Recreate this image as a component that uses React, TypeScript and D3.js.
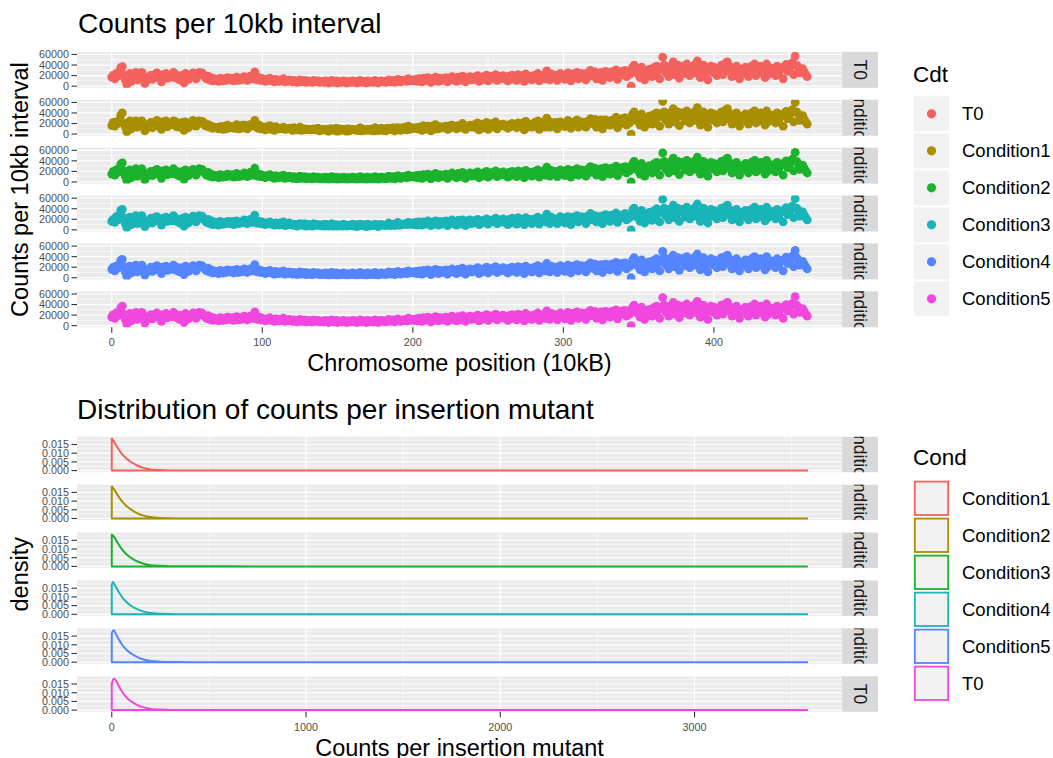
import React from 'react';
import * as d3 from 'd3';

// ---------- categories / colours ----------
const CDT_LEVELS = ['T0', 'Condition1', 'Condition2', 'Condition3', 'Condition4', 'Condition5'];
const COND_LEVELS = ['Condition1', 'Condition2', 'Condition3', 'Condition4', 'Condition5', 'T0'];
const HUE_COLORS = ['#F4625D', '#A88F00', '#1BB22C', '#19B4B8', '#5485FF', '#F047DF'];

// ---------- counts per 10kb interval (thousands), index = chromosome position ----------
const T0_COUNTS_K = [
17,21,14,24,19,27,35,37,22,12,3,18,24,9,15,20,26,12,17,22,
26,19,5,11,14,17,21,13,18,23,25,16,20,8,22,18,24,15,19,21,
17,26,23,15,20,12,18,21,6,24,19,13,17,22,25,18,14,20,26,23,
25,21,17,14,19,12,16,10,14,11,13,9,15,12,10,14,11,16,13,12,
15,10,13,17,11,14,12,16,18,13,11,15,19,14,17,27,13,12,16,11,
14,12,9,13,11,15,10,12,8,13,11,9,12,10,14,8,11,9,12,10,
8,11,9,7,10,12,8,9,11,7,10,8,9,7,11,8,9,10,7,8,
9,7,10,8,6,9,11,7,8,10,6,9,8,7,10,8,6,9,7,8,
10,7,9,6,8,11,7,8,9,6,10,7,8,9,7,11,8,6,9,10,
8,9,7,10,12,8,9,11,7,10,13,9,8,11,10,12,9,14,10,11,
12,10,13,9,14,11,8,15,10,13,16,11,7,14,10,17,13,9,15,11,
14,12,16,8,11,15,18,12,14,9,17,11,15,19,13,8,16,14,18,12,
15,17,13,20,9,16,12,18,15,21,10,17,14,19,16,22,11,13,18,16,
20,14,17,10,19,13,21,16,18,11,22,17,15,20,9,23,14,18,19,12,
17,21,16,24,10,19,18,22,14,29,20,12,23,18,17,21,11,15,24,18,
20,13,22,25,18,10,23,17,21,26,14,20,24,19,22,12,25,21,30,19,
22,27,14,24,20,26,11,23,28,19,25,16,27,20,24,31,13,26,21,28,
24,30,18,27,22,0,36,40,33,24,30,16,36,28,12,26,20,32,27,18,
35,22,38,30,14,36,55,40,26,34,18,38,30,46,22,28,40,15,33,38,
30,24,42,36,20,34,28,40,25,48,30,16,36,40,24,28,12,34,38,26,
36,30,20,34,26,40,22,30,44,46,28,36,18,30,24,38,28,14,32,26,
30,36,22,18,34,38,28,42,20,32,26,38,24,30,16,42,22,30,34,26,
33,20,38,24,31,35,14,36,41,28,30,38,44,22,57,40,36,25,31,33,
27,22,18];

const C1_COUNTS_K = [
16,22,15,23,20,26,36,40,21,13,4,17,25,10,14,21,25,13,16,23,
25,20,6,12,13,18,22,12,19,22,26,15,21,9,23,17,25,14,20,20,
18,25,24,14,21,13,17,22,7,23,20,12,18,21,26,17,15,19,25,24,
24,22,16,15,18,13,15,11,13,12,12,10,14,13,9,15,10,17,12,13,
14,11,12,18,10,15,11,17,17,14,10,16,18,15,16,26,14,11,17,10,
13,13,8,14,10,16,9,13,7,14,10,10,11,11,13,9,10,10,11,11,
7,12,8,8,9,13,7,10,10,8,9,9,8,8,10,9,8,11,6,9,
8,8,9,9,5,10,10,8,7,11,5,10,7,8,9,9,5,10,6,9,
9,8,8,7,7,12,6,9,8,7,9,8,7,10,6,12,7,7,8,11,
7,10,6,11,11,9,8,12,6,11,12,10,7,12,9,13,8,15,9,12,
11,11,12,10,13,12,7,16,9,14,15,12,6,15,9,18,12,10,14,12,
13,13,15,9,10,16,17,13,13,10,16,12,14,20,12,9,15,15,17,13,
14,18,12,21,8,17,11,19,14,22,9,18,13,20,15,23,10,14,17,17,
19,15,16,11,18,14,20,17,17,12,21,18,14,21,8,24,13,19,18,13,
16,22,15,25,9,20,17,23,13,30,19,13,22,19,16,22,10,16,23,19,
19,14,21,26,17,11,22,18,20,27,13,21,23,20,21,13,24,22,29,20,
21,28,13,25,19,27,10,24,27,20,24,17,26,21,23,32,12,27,20,29,
23,31,17,28,21,0,38,42,34,25,31,17,38,29,13,27,21,34,28,19,
37,23,40,32,15,38,62,42,27,36,19,40,32,48,23,30,42,16,35,40,
32,25,44,38,21,36,29,42,26,50,32,17,38,42,25,30,13,36,40,27,
38,32,21,36,27,42,23,32,46,48,29,38,19,32,25,40,29,15,34,27,
32,38,23,19,36,40,29,44,21,34,27,40,25,32,17,44,23,32,36,27,
35,21,40,25,33,37,15,38,43,29,32,40,46,23,60,42,38,26,33,35,
28,23,19];

const C2_COUNTS_K = [
15,20,13,23,18,26,34,36,21,11,3,17,23,8,14,19,25,11,16,21,
25,18,4,10,13,16,20,12,17,22,24,15,19,7,21,17,23,14,18,20,
16,25,22,14,19,11,17,20,5,23,18,12,16,21,24,17,13,19,25,22,
24,20,16,13,18,11,15,9,13,10,12,8,14,11,9,13,10,15,12,11,
14,9,12,16,10,13,11,15,17,12,10,14,18,13,16,26,12,11,15,10,
13,11,8,12,10,14,9,11,7,12,10,8,11,9,13,7,10,8,11,9,
7,10,8,6,9,11,7,8,10,6,9,7,8,6,10,7,8,9,6,7,
8,6,9,7,5,8,10,6,7,9,5,8,7,6,9,7,5,8,6,7,
9,6,8,5,7,10,6,7,8,5,9,6,7,8,6,10,7,5,8,9,
7,8,6,9,11,7,8,10,6,9,12,8,7,10,9,11,8,13,9,10,
11,9,12,8,13,10,7,14,9,12,15,10,6,13,9,16,12,8,14,10,
13,11,15,7,10,14,17,11,13,8,16,10,14,18,12,7,15,13,17,11,
14,16,12,19,8,15,11,17,14,20,9,16,13,18,15,21,10,12,17,15,
19,13,16,9,18,12,20,15,17,10,21,16,14,19,8,22,13,17,18,11,
16,20,15,23,9,18,17,21,13,28,19,11,22,17,16,20,10,14,23,17,
19,12,21,24,17,9,22,16,20,25,13,19,23,18,21,11,24,20,29,18,
21,26,13,23,19,25,10,22,27,18,24,15,26,19,23,30,12,25,20,27,
23,29,17,26,21,0,35,39,32,23,29,15,35,27,11,25,19,31,26,17,
34,21,37,29,13,35,55,39,25,33,17,37,29,45,21,27,39,14,32,37,
29,23,41,35,19,33,27,39,24,47,29,15,35,39,23,27,11,33,37,25,
35,29,19,33,25,39,21,29,43,45,27,35,17,29,23,37,27,13,31,25,
29,35,21,17,33,37,27,41,19,31,25,37,23,29,15,41,21,29,33,25,
32,19,37,23,30,34,13,35,40,27,29,37,43,21,56,39,35,24,30,32,
26,21,17];

const C3_COUNTS_K = [
16,20,14,25,19,28,37,39,23,12,4,19,24,10,15,21,27,12,18,22,
27,19,6,11,15,17,22,13,18,24,25,17,20,9,22,19,24,16,19,22,
17,27,23,16,20,13,18,22,7,24,20,13,18,22,26,18,15,20,27,23,
26,21,18,14,20,12,17,10,15,11,14,9,16,12,11,14,12,16,14,12,
16,10,14,17,12,14,13,16,19,13,12,15,20,14,18,28,13,13,16,12,
15,12,10,13,12,15,11,12,9,13,12,9,13,10,15,8,12,9,13,10,
9,11,10,7,11,12,9,9,12,7,11,8,10,7,12,8,10,10,8,8,
10,7,11,8,7,9,12,7,9,10,7,9,9,7,11,8,7,9,8,8,
11,7,10,6,9,11,8,8,10,6,11,7,9,9,8,11,9,6,10,10,
9,9,8,10,13,8,10,11,8,10,14,9,9,11,11,12,10,14,11,11,
13,10,14,9,15,11,9,15,11,13,17,11,8,14,11,17,14,9,16,11,
15,12,17,8,12,15,19,12,15,9,18,11,16,19,14,8,17,14,19,12,
16,17,14,20,10,16,13,18,16,21,11,17,15,19,17,22,12,13,19,16,
21,14,18,10,20,13,22,16,19,11,23,17,16,20,10,23,15,18,20,12,
18,21,17,24,11,19,19,22,15,30,21,12,24,18,18,21,12,15,25,18,
21,13,23,25,19,10,24,17,22,27,15,20,25,19,23,12,26,21,31,19,
23,27,15,24,21,26,12,23,29,19,26,16,28,20,25,32,14,26,22,28,
25,31,19,27,23,0,38,41,34,24,31,16,37,28,13,26,21,33,28,18,
36,22,40,31,15,37,58,41,27,35,19,39,31,47,23,29,41,16,34,39,
31,24,43,37,21,35,29,41,26,49,31,16,37,41,25,29,13,35,39,26,
37,31,21,35,27,41,23,31,45,47,29,37,19,31,25,39,29,15,33,26,
31,37,23,19,35,39,29,43,21,33,27,39,25,31,17,43,23,31,35,27,
34,21,39,25,32,36,15,37,42,29,31,39,45,23,59,41,37,26,32,34,
28,23,19];

const C4_COUNTS_K = [
16,20,13,22,18,25,33,35,21,11,3,17,22,9,14,19,24,11,16,20,
24,18,5,10,13,16,20,12,17,21,23,15,19,8,20,17,22,14,18,19,
16,24,21,14,19,11,17,19,6,22,18,12,16,20,23,17,13,19,24,21,
23,19,16,13,18,11,15,9,13,10,12,8,14,11,9,13,10,15,12,11,
14,9,12,16,10,13,11,15,17,12,10,14,17,13,16,25,12,11,15,10,
13,11,8,12,10,14,9,11,7,12,10,8,11,9,13,7,10,8,11,9,
7,10,8,6,9,11,7,8,10,6,9,7,8,6,10,7,8,9,6,7,
8,6,9,7,5,8,10,6,7,9,5,8,7,6,9,7,5,8,6,7,
9,6,8,5,7,10,6,7,8,5,9,6,7,8,6,10,7,5,8,9,
7,8,6,9,11,7,8,10,6,9,12,8,7,10,9,11,8,13,9,10,
11,9,12,8,13,10,7,14,9,12,15,10,6,13,9,16,12,8,14,10,
13,11,15,7,10,14,17,11,13,8,16,10,14,18,12,7,15,13,17,11,
14,16,12,19,8,15,11,17,14,20,9,16,13,18,15,21,10,12,17,15,
19,13,16,9,18,12,20,15,17,10,21,16,14,19,8,22,13,17,18,11,
16,20,15,23,9,18,17,21,13,27,19,11,22,17,16,20,10,14,23,17,
19,12,21,24,17,9,22,16,20,25,13,19,23,18,21,11,24,20,28,18,
21,26,13,23,19,25,10,22,26,18,24,15,26,19,23,29,12,25,20,27,
23,28,17,26,21,0,34,38,31,23,28,15,34,27,11,25,19,30,26,17,
33,21,36,28,13,34,50,38,25,32,17,36,28,43,21,27,38,14,31,36,
28,23,40,34,19,32,27,38,24,45,28,15,34,38,23,27,11,32,36,25,
34,28,19,32,25,38,21,28,41,43,27,34,17,28,23,36,27,13,30,25,
28,34,21,17,32,36,27,40,19,30,25,36,23,28,15,40,21,28,32,25,
31,19,36,23,29,33,13,34,39,27,28,36,41,21,52,38,34,24,29,31,
26,21,17];

const C5_COUNTS_K = [
16,21,14,24,19,26,34,37,22,12,3,18,23,9,15,20,25,12,17,21,
25,19,5,11,14,17,21,13,18,22,24,16,20,8,21,18,23,15,19,20,
17,25,22,15,20,12,18,20,6,23,19,13,17,21,24,18,14,20,25,22,
24,20,17,14,19,12,16,10,14,11,13,9,15,12,10,14,11,16,13,12,
15,10,13,17,11,14,12,16,18,13,11,15,18,14,17,26,13,12,16,11,
14,12,9,13,11,15,10,12,8,13,11,9,12,10,14,8,11,9,12,10,
8,11,9,7,10,12,8,9,11,7,10,8,9,7,11,8,9,10,7,8,
9,7,10,8,6,9,11,7,8,10,6,9,8,7,10,8,6,9,7,8,
10,7,9,6,8,11,7,8,9,6,10,7,8,9,7,11,8,6,9,10,
8,9,7,10,12,8,9,11,7,10,13,9,8,11,10,12,9,14,10,11,
12,10,13,9,14,11,8,15,10,13,16,11,7,14,10,17,13,9,15,11,
14,12,16,8,11,15,18,12,14,9,17,11,15,19,13,8,16,14,18,12,
15,17,13,20,9,16,12,18,15,21,10,17,14,19,16,22,11,13,18,16,
20,14,17,10,19,13,21,16,18,11,22,17,15,20,9,23,14,18,19,12,
17,21,16,24,10,19,18,22,14,28,20,12,23,18,17,21,11,15,24,18,
20,13,22,25,18,10,23,17,21,26,14,20,24,19,22,12,25,21,29,19,
22,27,14,24,20,26,11,23,27,19,25,16,27,20,24,30,13,26,21,28,
24,29,18,27,22,0,35,39,32,24,29,16,35,28,12,26,20,31,27,18,
34,22,37,30,14,35,53,39,26,33,18,37,30,44,22,28,39,15,32,37,
30,24,41,35,20,33,28,39,25,46,30,16,35,39,24,28,12,33,37,26,
35,30,20,33,26,39,22,30,42,44,28,35,18,30,24,37,28,14,31,26,
30,35,22,18,33,37,28,41,20,32,26,37,24,30,16,41,22,30,33,26,
32,20,37,24,30,34,14,35,40,28,30,37,42,22,55,39,35,25,30,32,
27,22,18];

const COUNT_SERIES = [T0_COUNTS_K, C1_COUNTS_K, C2_COUNTS_K, C3_COUNTS_K, C4_COUNTS_K, C5_COUNTS_K];
const POSITION_TICKS = [0, 100, 200, 300, 400];
const POSITION_MINOR = [50, 150, 250, 350, 450];
const COUNT_TICKS = [0, 20000, 40000, 60000];
const COUNT_MINOR = [10000, 30000, 50000];

// ---------- density of counts per insertion mutant ----------
const DENS_X = [0, 5, 10, 20, 30, 40, 50, 60, 70, 80, 90, 100, 120, 140, 160, 180, 200, 250, 300, 400, 600, 1000, 2000, 3000, 3580];
const DENS_C1 = [.0185, .0177, .0168, .0150, .0131, .0114, .0099, .0086, .0075, .0066, .0057, .0049, .0036, .0025, .0017, .0011, .0007, .0003, .0001, .00003, .00001, 0, 0, 0, 0];
const DENS_C2 = [.0184, .0178, .0170, .0153, .0135, .0118, .0103, .0090, .0078, .0068, .0059, .0051, .0037, .0026, .0018, .0012, .0008, .0003, .0001, .00003, .00001, 0, 0, 0, 0];
const DENS_C3 = [.0183, .0179, .0172, .0155, .0136, .0118, .0102, .0088, .0076, .0066, .0057, .0049, .0035, .0025, .0017, .0011, .0007, .0003, .0001, .00003, .00001, 0, 0, 0, 0];
const DENS_C4 = [.0170, .0185, .0178, .0160, .0140, .0121, .0104, .0089, .0077, .0066, .0057, .0049, .0035, .0025, .0017, .0011, .0007, .0003, .0001, .00003, .00001, 0, 0, 0, 0];
const DENS_C5 = [.0165, .0180, .0183, .0165, .0144, .0124, .0106, .0091, .0078, .0067, .0058, .0050, .0036, .0025, .0017, .0011, .0007, .0003, .0001, .00003, .00001, 0, 0, 0, 0];
const DENS_T0 = [.0150, .0170, .0180, .0172, .0152, .0130, .0111, .0094, .0080, .0068, .0058, .0050, .0036, .0025, .0017, .0011, .0007, .0003, .0001, .00003, .00001, 0, 0, 0, 0];
const DENS_SERIES = [DENS_C1, DENS_C2, DENS_C3, DENS_C4, DENS_C5, DENS_T0];
const MUTANT_TICKS = [0, 1000, 2000, 3000];
const MUTANT_MINOR = [500, 1500, 2500, 3500];
const DENS_TICKS = [0, 0.005, 0.01, 0.015];
const DENS_MINOR = [0.0025, 0.0075, 0.0125, 0.0175];

// ---------- layout ----------
const FONT = "'Liberation Sans', Arial, Helvetica, sans-serif";
const PL = 77;
const PR = 842;
const STRIP_W = 36;
const TOP_Y0 = 51.8;
const TOP_H = 36;
const TOP_STEP = 47.9;
const BOT_Y0 = 436.8;
const BOT_H = 35.4;
const BOT_STEP = 47.9;
const TICK_FS = 10.8;
const PANEL_BG = '#EBEBEB';

function expand(lo: number, hi: number): [number, number] {
  const d = (hi - lo) * 0.05;
  return [lo - d, hi + d];
}

type FacetProps = {
  id: string;
  y: number;
  h: number;
  xs: d3.ScaleLinear<number, number>;
  ys: d3.ScaleLinear<number, number>;
  xMajor: number[];
  xMinor: number[];
  yMajor: number[];
  yMinor: number[];
  yFmt: (v: number) => string;
  label: string;
  children?: React.ReactNode;
};

function Facet({ id, y, h, xs, ys, xMajor, xMinor, yMajor, yMinor, yFmt, label, children }: FacetProps) {
  const sx = PR + STRIP_W / 2;
  const sy = y + h / 2;
  return (
    <g>
      <defs>
        <clipPath id={`clip-${id}`}>
          <rect x={PL} y={y} width={PR - PL} height={h} />
        </clipPath>
        <clipPath id={`strip-${id}`}>
          <rect x={PR} y={y} width={STRIP_W} height={h} />
        </clipPath>
      </defs>
      <rect x={PL} y={y} width={PR - PL} height={h} fill={PANEL_BG} />
      {yMinor.map((v) => (
        <line key={`ym${v}`} x1={PL} x2={PR} y1={ys(v)} y2={ys(v)} stroke="#fff" strokeWidth={0.6} />
      ))}
      {xMinor.filter((v) => xs(v) > PL && xs(v) < PR).map((v) => (
        <line key={`xm${v}`} x1={xs(v)} x2={xs(v)} y1={y} y2={y + h} stroke="#fff" strokeWidth={0.6} />
      ))}
      {yMajor.map((v) => (
        <line key={`yM${v}`} x1={PL} x2={PR} y1={ys(v)} y2={ys(v)} stroke="#fff" strokeWidth={1.2} />
      ))}
      {xMajor.map((v) => (
        <line key={`xM${v}`} x1={xs(v)} x2={xs(v)} y1={y} y2={y + h} stroke="#fff" strokeWidth={1.2} />
      ))}
      <g clipPath={`url(#clip-${id})`}>{children}</g>
      {yMajor.map((v) => (
        <g key={`yt${v}`}>
          <line x1={PL - 5.5} x2={PL} y1={ys(v)} y2={ys(v)} stroke="#333333" strokeWidth={1.1} />
          <text x={PL - 8} y={ys(v)} dy="0.36em" textAnchor="end" fontSize={TICK_FS} fill="#4D4D4D" fontFamily={FONT}>
            {yFmt(v)}
          </text>
        </g>
      ))}
      <rect x={PR} y={y} width={STRIP_W} height={h} fill="#D9D9D9" />
      <g clipPath={`url(#strip-${id})`}>
        <text
          x={sx}
          y={sy}
          transform={`rotate(90 ${sx} ${sy})`}
          textAnchor="middle"
          dy="0.36em"
          fontSize={17.6}
          fill="#1A1A1A"
          fontFamily={FONT}
        >
          {label}
        </text>
      </g>
    </g>
  );
}

function XAxis({ xs, y, ticks, fmt }: { xs: d3.ScaleLinear<number, number>; y: number; ticks: number[]; fmt: (v: number) => string }) {
  return (
    <g>
      {ticks.map((v) => (
        <g key={v}>
          <line x1={xs(v)} x2={xs(v)} y1={y} y2={y + 5.5} stroke="#333333" strokeWidth={1.1} />
          <text x={xs(v)} y={y + 19} textAnchor="middle" fontSize={TICK_FS} fill="#4D4D4D" fontFamily={FONT}>
            {fmt(v)}
          </text>
        </g>
      ))}
    </g>
  );
}

export default function App() {
  // ----- top plot scales -----
  const nPos = d3.max(COUNT_SERIES, (s) => s.length)! - 1;
  const xTop = d3.scaleLinear().domain(expand(0, nPos)).range([PL, PR]);
  const allCounts = COUNT_SERIES.flat().map((v) => v * 1000);
  const cMin = d3.min(allCounts)!;
  const cMax = d3.max(allCounts)!;
  const cDom = expand(cMin, cMax);

  // ----- bottom plot scales -----
  const dxMax = d3.max(DENS_X)!;
  const xBot = d3.scaleLinear().domain(expand(0, dxMax)).range([PL, PR]);
  const dMax = d3.max(DENS_SERIES.flat())!;
  const dDom = expand(0, dMax);

  const topBottom = TOP_Y0 + 5 * TOP_STEP + TOP_H;
  const botBottom = BOT_Y0 + 5 * BOT_STEP + BOT_H;
  const midX = (PL + PR) / 2;

  return (
    <svg width={1053} height={758} style={{ position: 'absolute', left: 0, top: 0, background: '#fff' }} fontFamily={FONT}>
      {/* ===== Top plot ===== */}
      <text x={78} y={33} fontSize={28} fill="#000">Counts per 10kb interval</text>
      {CDT_LEVELS.map((lvl, i) => {
        const y = TOP_Y0 + i * TOP_STEP;
        const ys = d3.scaleLinear().domain(cDom).range([y + TOP_H, y]);
        const series = COUNT_SERIES[i];
        return (
          <Facet
            key={lvl}
            id={`top${i}`}
            y={y}
            h={TOP_H}
            xs={xTop}
            ys={ys}
            xMajor={POSITION_TICKS}
            xMinor={POSITION_MINOR}
            yMajor={COUNT_TICKS}
            yMinor={COUNT_MINOR}
            yFmt={(v) => String(v)}
            label={lvl}
          >
            {series.map((v, j) => (
              <circle key={j} cx={xTop(j)} cy={ys(v * 1000)} r={4.4} fill={HUE_COLORS[i]} />
            ))}
          </Facet>
        );
      })}
      <XAxis xs={xTop} y={topBottom} ticks={POSITION_TICKS} fmt={(v) => String(v)} />
      <text x={midX} y={371} textAnchor="middle" fontSize={23.5} fill="#000">Chromosome position (10kB)</text>
      <text x={28} y={(TOP_Y0 + topBottom) / 2} transform={`rotate(-90 28 ${(TOP_Y0 + topBottom) / 2})`} textAnchor="middle" fontSize={23.5} fill="#000">
        Counts per 10kb interval
      </text>

      {/* top legend */}
      <text x={913} y={82} fontSize={22.5} fill="#000">Cdt</text>
      {CDT_LEVELS.map((lvl, i) => {
        const cy = 113.8 + i * 37;
        return (
          <g key={lvl}>
            <rect x={914} y={cy - 17.5} width={35} height={35} fill="#F2F2F2" />
            <circle cx={931.5} cy={cy} r={4.6} fill={HUE_COLORS[i]} />
            <text x={962} y={cy + 6.6} fontSize={18.5} fill="#000">{lvl}</text>
          </g>
        );
      })}

      {/* ===== Bottom plot ===== */}
      <text x={77} y={419} fontSize={28} fill="#000">Distribution of counts per insertion mutant</text>
      {COND_LEVELS.map((lvl, i) => {
        const y = BOT_Y0 + i * BOT_STEP;
        const ys = d3.scaleLinear().domain(dDom).range([y + BOT_H, y]);
        const dens = DENS_SERIES[i];
        const pts: [number, number][] = DENS_X.map((x, k) => [x, dens[k]]);
        const line = d3
          .line<[number, number]>()
          .x((d) => xBot(d[0]))
          .y((d) => ys(d[1]))
          .curve(d3.curveMonotoneX);
        const path = `${line(pts)}L${xBot(dxMax)},${ys(0)}L${xBot(0)},${ys(0)}Z`;
        return (
          <Facet
            key={lvl}
            id={`bot${i}`}
            y={y}
            h={BOT_H}
            xs={xBot}
            ys={ys}
            xMajor={MUTANT_TICKS}
            xMinor={MUTANT_MINOR}
            yMajor={DENS_TICKS}
            yMinor={DENS_MINOR.filter((v) => v < dDom[1])}
            yFmt={(v) => d3.format('.3f')(v)}
            label={lvl}
          >
            <path d={path} fill="none" stroke={HUE_COLORS[i]} strokeWidth={2} strokeLinejoin="round" />
          </Facet>
        );
      })}
      <XAxis xs={xBot} y={botBottom} ticks={MUTANT_TICKS} fmt={(v) => String(v)} />
      <text x={midX} y={756} textAnchor="middle" fontSize={23.5} fill="#000">Counts per insertion mutant</text>
      <text x={28} y={(BOT_Y0 + botBottom) / 2} transform={`rotate(-90 28 ${(BOT_Y0 + botBottom) / 2})`} textAnchor="middle" fontSize={23.5} fill="#000">
        density
      </text>

      {/* bottom legend */}
      <text x={913} y={465} fontSize={22.5} fill="#000">Cond</text>
      {COND_LEVELS.map((lvl, i) => {
        const cy = 498.3 + i * 37;
        return (
          <g key={lvl}>
            <rect x={914.8} y={cy - 16.7} width={33.4} height={33.4} fill="#F2F2F2" stroke={HUE_COLORS[i]} strokeWidth={1.8} />
            <text x={962} y={cy + 6.8} fontSize={18.5} fill="#000">{lvl}</text>
          </g>
        );
      })}
    </svg>
  );
}
